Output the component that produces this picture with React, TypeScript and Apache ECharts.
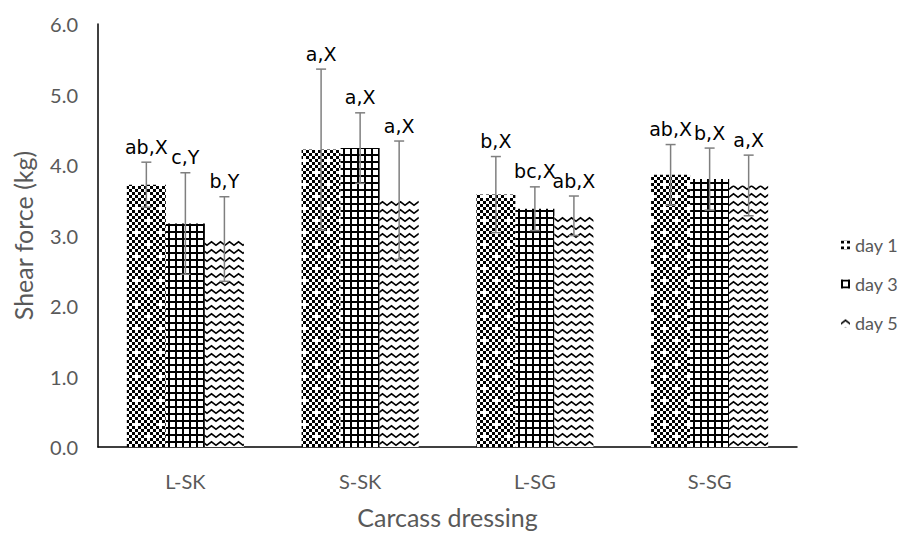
import React, { useEffect, useRef } from "react";
import * as echarts from "echarts";

const categories = ["L-SK", "S-SK", "L-SG", "S-SG"];
const seriesNames = ["day 1", "day 3", "day 5"];
const day1 = [3.72, 4.22, 3.58, 3.86];
const day3 = [3.17, 4.24, 3.38, 3.8];
const day5 = [2.95, 3.5, 3.28, 3.71];
const err1 = [0.32, 1.14, 0.54, 0.43];
const err3 = [0.72, 0.5, 0.31, 0.44];
const err5 = [0.6, 0.84, 0.28, 0.43];
const labels1 = ["ab,X", "a,X", "b,X", "ab,X"];
const labels3 = ["c,Y", "a,X", "bc,X", "b,X"];
const labels5 = ["b,Y", "a,X", "ab,X", "a,X"];
const yTicks = [0, 1, 2, 3, 4, 5, 6];

const GAP = 0.33;
const FONT = "Lato";

function makeCanvas(w: number, h: number, draw: (ctx: CanvasRenderingContext2D) => void) {
  const c = document.createElement("canvas");
  c.width = w;
  c.height = h;
  const ctx = c.getContext("2d")!;
  ctx.fillStyle = "#fff";
  ctx.fillRect(0, 0, w, h);
  draw(ctx);
  return c;
}

function patternDay1() {
  const S = 24;
  const c = makeCanvas(S, S, (ctx) => {
    ctx.fillStyle = "#000";
    for (let i = 0; i < S / 3; i++) {
      for (let j = 0; j < S / 3; j++) {
        if ((i + j) % 2 === 0) ctx.fillRect(i * 3, j * 3, 3, 3);
      }
    }
    ctx.fillStyle = "#fff";
    const blob = (cx: number, cy: number) => {
      ctx.fillRect(cx - 1.5, cy - 4.5, 3, 9);
      ctx.fillRect(cx - 4.5, cy - 1.5, 9, 3);
    };
    blob(4.5, 4.5);
    blob(16.5, 16.5);
  });
  return { image: c.toDataURL(), repeat: "repeat", imageWidth: S, imageHeight: S } as any;
}

function patternDay3() {
  const S = 7;
  const c = makeCanvas(S, S, (ctx) => {
    ctx.fillStyle = "#000";
    ctx.fillRect(0, 0, 2, S);
    ctx.fillRect(0, 0, S, 2);
  });
  return { image: c.toDataURL(), repeat: "repeat", imageWidth: S, imageHeight: S } as any;
}

function patternDay5() {
  const W = 9;
  const H = 8;
  const c = makeCanvas(W, H, (ctx) => {
    ctx.strokeStyle = "#000";
    ctx.lineWidth = 1.6;
    ctx.beginPath();
    ctx.moveTo(-1, 6);
    ctx.lineTo(4.5, 1.8);
    ctx.lineTo(10, 6);
    ctx.stroke();
  });
  return { image: c.toDataURL(), repeat: "repeat", imageWidth: W, imageHeight: H } as any;
}

export default function App() {
  const ref = useRef<HTMLDivElement>(null);
  useEffect(() => {
    if (!ref.current) return;
    const chart = echarts.init(ref.current, null, { renderer: "svg" });
    const patterns = [patternDay1(), patternDay3(), patternDay5()];
    const values = [day1, day3, day5];
    const errs = [err1, err3, err5];
    const labels = [labels1, labels3, labels5];

    const barSeries = seriesNames.map((name, i) => ({
      name,
      type: "bar",
      data: values[i],
      barGap: "0%",
      barCategoryGap: GAP * 100 + "%",
      itemStyle: { color: patterns[i] },
      z: 2,
    }));

    const errSeries = seriesNames.map((name, i) => ({
      name: name + " err",
      type: "custom",
      z: 5,
      data: categories.map((_, ci) => [ci, values[i][ci], errs[i][ci]]),
      encode: { x: 0, y: 1 },
      renderItem: (params: any, api: any) => {
        const ci = api.value(0);
        const v = api.value(1);
        const e = api.value(2);
        const text = labels[i][params.dataIndex];
        const bandW = api.size([1, 0])[0];
        const barW = (bandW * (1 - GAP)) / 3;
        const off = (i - 1) * barW;
        const top = api.coord([ci, v + e]);
        const bot = api.coord([ci, v - e]);
        const x = top[0] + off;
        const cap = 5;
        const st = { stroke: "#7f7f7f", lineWidth: 1.5 };
        return {
          type: "group",
          children: [
            { type: "line", shape: { x1: x, y1: top[1], x2: x, y2: bot[1] }, style: st },
            { type: "line", shape: { x1: x - cap, y1: top[1], x2: x + cap, y2: top[1] }, style: st },
            { type: "line", shape: { x1: x - cap, y1: bot[1], x2: x + cap, y2: bot[1] }, style: st },
            {
              type: "text",
              style: {
                text,
                x,
                y: top[1] - 6,
                align: "center",
                verticalAlign: "bottom",
                fill: "#000",
                font: '19px "DejaVu Sans"',
              },
            },
          ],
        };
      },
    }));

    chart.setOption({
      animation: false,
      backgroundColor: "#fff",
      textStyle: { fontFamily: FONT },
      grid: { left: 98, top: 24, right: 109, bottom: 81, containLabel: false },
      legend: {
        data: seriesNames,
        orient: "vertical",
        left: 836,
        top: 231,
        itemWidth: 9,
        itemHeight: 9,
        itemGap: 21,
        icon: "rect",
        textStyle: { color: "#595959", fontSize: 18, lineHeight: 18, fontFamily: FONT },
      },
      xAxis: {
        type: "category",
        data: categories,
        name: "Carcass dressing",
        nameLocation: "middle",
        nameGap: 57,
        nameTextStyle: { color: "#595959", fontSize: 25, fontFamily: FONT },
        axisLine: { lineStyle: { color: "#000", width: 1.5 } },
        axisTick: { show: false },
        axisLabel: { color: "#595959", fontSize: 20, margin: 24, fontFamily: FONT },
      },
      yAxis: {
        type: "value",
        min: yTicks[0],
        max: yTicks[yTicks.length - 1],
        interval: 1,
        name: "Shear force (kg)",
        nameLocation: "middle",
        nameGap: 63,
        nameTextStyle: { color: "#595959", fontSize: 25, fontFamily: FONT },
        axisLine: { show: true, lineStyle: { color: "#000", width: 1.5 } },
        axisTick: { show: false },
        splitLine: { show: false },
        axisLabel: {
          color: "#595959",
          fontSize: 20,
          margin: 20,
          fontFamily: FONT,
          formatter: (v: number) => v.toFixed(1),
        },
      },
      series: [...barSeries, ...errSeries],
    });
    return () => chart.dispose();
  }, []);
  return <div ref={ref} style={{ width: 906, height: 534, position: "absolute", left: 0, top: 0 }} />;
}
